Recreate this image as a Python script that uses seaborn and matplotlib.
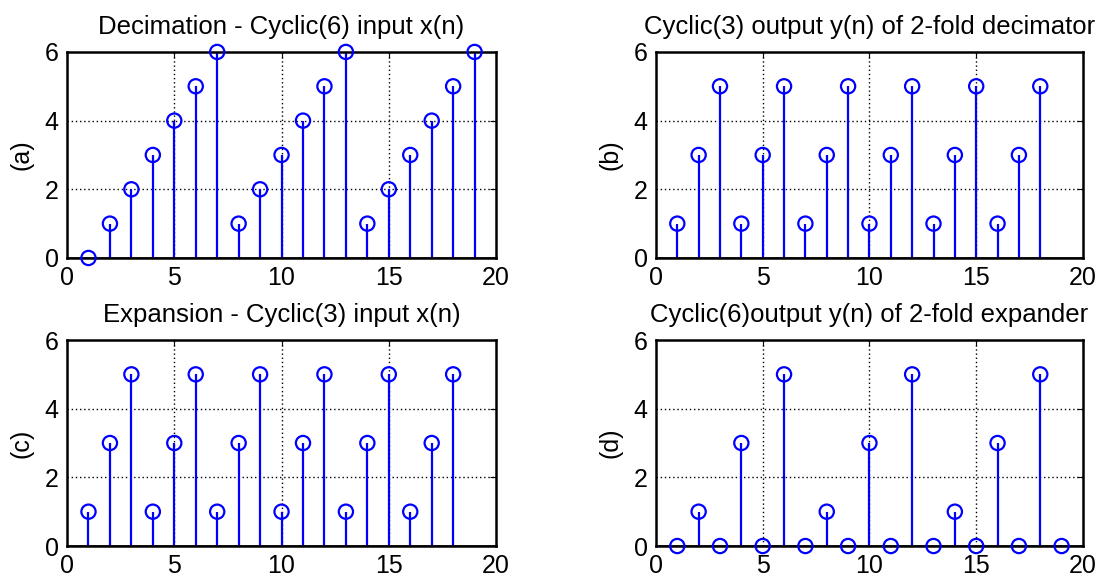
import matplotlib
matplotlib.use('Agg')
import matplotlib.pyplot as plt
import pandas as pd
import seaborn as sns

# Data for the four panels
n_a = list(range(1, 20))
x_a = [0, 1, 2, 3, 4, 5, 6, 1, 2, 3, 4, 5, 6, 1, 2, 3, 4, 5, 6]

n_b = list(range(1, 19))
y_b = [1, 3, 5, 1, 3, 5, 1, 3, 5, 1, 3, 5, 1, 3, 5, 1, 3, 5]

n_c = list(range(1, 19))
x_c = [1, 3, 5, 1, 3, 5, 1, 3, 5, 1, 3, 5, 1, 3, 5, 1, 3, 5]

n_d = list(range(1, 20))
y_d = [0, 1, 0, 3, 0, 5, 0, 1, 0, 3, 0, 5, 0, 1, 0, 3, 0, 5, 0]

titles = ['Decimation - Cyclic(6) input x(n)',
          'Cyclic(3) output y(n) of 2-fold decimator',
          'Expansion - Cyclic(3) input x(n)',
          'Cyclic(6)output y(n) of 2-fold expander']
ylabels = ['(a)', '(b)', '(c)', '(d)']
panels = [(n_a, x_a), (n_b, y_b), (n_c, x_c), (n_d, y_d)]

sns.set_style('white')
plt.rcParams['font.family'] = ['Liberation Sans', 'DejaVu Sans']
plt.rcParams['text.color'] = 'black'
plt.rcParams['axes.labelcolor'] = 'black'

fig = plt.figure(figsize=(11.08, 5.81), dpi=100)
positions = [[0.0605, 0.556, 0.3872, 0.3546],
             [0.592, 0.556, 0.3854, 0.3546],
             [0.0605, 0.0602, 0.3872, 0.3546],
             [0.592, 0.0602, 0.3854, 0.3546]]

fs = 18

for pos, (n, v), title, ylab in zip(positions, panels, titles, ylabels):
    ax = fig.add_axes(pos)
    df = pd.DataFrame({'n': n, 'v': v})

    # dotted grid
    for gx in [5, 10, 15]:
        ax.axvline(gx, color='black', linestyle=(0, (1, 2)), linewidth=1.0, zorder=0)
    for gy in [2, 4]:
        ax.axhline(gy, color='black', linestyle=(0, (1, 2)), linewidth=1.0, zorder=0)

    # stems + circles
    ax.vlines(df['n'], 0, df['v'], color='blue', linewidth=1.6, zorder=2)
    ax.axhline(0, color='black', linewidth=1.8, zorder=3)
    sns.scatterplot(data=df, x='n', y='v', ax=ax, marker='o', s=105,
                    facecolor='none', edgecolor='blue', linewidth=1.6,
                    zorder=4, clip_on=False)

    ax.set_xlim(0, 20)
    ax.set_ylim(0, 6)
    ax.set_xticks([0, 5, 10, 15, 20])
    ax.set_yticks([0, 2, 4, 6])
    ax.set_xlabel('')
    ax.set_ylabel(ylab, fontsize=fs, labelpad=8)
    ax.set_title(title, fontsize=18.5, pad=13, color='black')
    ax.tick_params(axis='x', pad=6)
    ax.tick_params(axis='y', pad=6)
    ax.tick_params(axis='both', direction='in', length=4, labelsize=fs,
                   top=True, right=True, colors='black')
    for s in ax.spines.values():
        s.set_color('black')
        s.set_linewidth(1.8)

fig.savefig('out.png', dpi=100)
